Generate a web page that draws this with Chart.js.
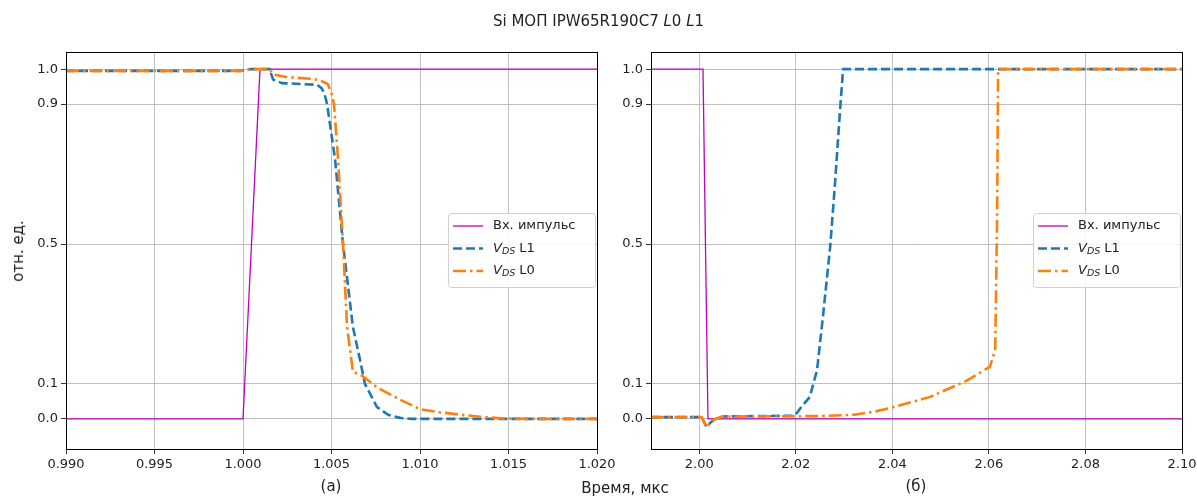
<!DOCTYPE html>
<html>
<head>
<meta charset="utf-8">
<script src="https://cdn.jsdelivr.net/npm/chart.js@4"></script>
<style>
  body { margin: 0; background: #fff; font-family: "DejaVu Sans", sans-serif; }
  #wrap { position: relative; width: 1197px; height: 496px; overflow: hidden; }
  .box { position: absolute; top: 0; height: 496px; }
  .txt { position: absolute; color: #222; white-space: nowrap; }
</style>
</head>
<body>
<div id="wrap">
  <div class="box" style="left:0;width:620px"><canvas id="chartA"></canvas></div>
  <div class="box" style="left:604px;width:620px"><canvas id="chartB"></canvas></div>
  <div class="txt" style="left:0;width:1197px;top:12px;text-align:center;font-size:15px">Si МОП IPW65R190C7 <i>L</i>0 <i>L</i>1</div>
  <div class="txt" style="left:18px;top:251px;font-size:15px;transform:translate(-50%,-50%) rotate(-90deg)">отн. ед.</div>
  <div class="txt" style="left:331px;top:477px;font-size:15px;transform:translateX(-50%)">(а)</div>
  <div class="txt" style="left:916px;top:477px;font-size:15px;transform:translateX(-50%)">(б)</div>
  <div class="txt" style="left:625px;top:479px;font-size:15px;transform:translateX(-50%)">Время, мкс</div>
</div>
<script>
// ---- data (a): fall of the input pulse ----
const pulseTimeA = [0.99, 1.0, 1.00096, 1.02];
const pulseValA  = [0, 0, 1, 1];

const l1TimeA = [0.99, 0.9999, 1.0004, 1.0015, 1.0017, 1.0022, 1.0035, 1.0042, 1.00445, 1.0046, 1.00475, 1.0052, 1.00565, 1.00621, 1.00661, 1.00689, 1.00757, 1.0082, 1.00887, 1.0095, 1.02];
const l1ValA  = [0.995, 0.995, 1.0, 1.0, 0.97, 0.96, 0.957, 0.955, 0.945, 0.93, 0.9, 0.743, 0.5, 0.263, 0.169, 0.1, 0.034, 0.012, 0.003, 0, 0];

const l0TimeA = [0.99, 0.9999, 1.0004, 1.0015, 1.0017, 1.0025, 1.004, 1.0044, 1.0048, 1.005, 1.00514, 1.00537, 1.00565, 1.00588, 1.00621, 1.00678, 1.00757, 1.00887, 1.01, 1.0111, 1.0123, 1.0134, 1.0145, 1.016, 1.02];
const l0ValA  = [0.995, 0.995, 1.0, 1.0, 0.985, 0.977, 0.972, 0.967, 0.957, 0.93, 0.9, 0.743, 0.5, 0.263, 0.135, 0.122, 0.09, 0.055, 0.028, 0.019, 0.012, 0.006, 0.002, 0, 0];

// ---- data (б): rise ----
const pulseTimeB = [1.99, 2.00077, 2.0018, 2.10];
const pulseValB  = [1, 1, 0, 0];

const l1TimeB = [1.99, 2.0005, 2.0011, 2.00154, 2.0022, 2.00326, 2.0049, 2.0198, 2.0209, 2.0229, 2.0244, 2.0256, 2.0271, 2.0281, 2.0292, 2.0298, 2.10];
const l1ValB  = [0.005, 0.005, -0.012, -0.024, -0.012, 0.0, 0.007, 0.009, 0.03, 0.063, 0.14, 0.29, 0.49, 0.67, 0.89, 1.0, 1.0];

const l0TimeB = [1.99, 2.0005, 2.0011, 2.00154, 2.0022, 2.00326, 2.0049, 2.025, 2.032, 2.036, 2.0395, 2.0478, 2.0555, 2.0602, 2.0613, 2.0617, 2.0619, 2.10];
const l0ValB  = [0.005, 0.005, -0.012, -0.024, -0.012, 0.0, 0.007, 0.008, 0.012, 0.02, 0.031, 0.063, 0.11, 0.149, 0.197, 0.58, 1.0, 1.0];

const yTicks = [0, 0.1, 0.5, 0.9, 1.0];
const xTicksA = [0.99, 0.995, 1.0, 1.005, 1.01, 1.015, 1.02];
const xTicksB = [2.0, 2.02, 2.04, 2.06, 2.08, 2.10];

const FONT = "'DejaVu Sans', sans-serif";
const pts = (xs, ys) => xs.map((x, i) => ({ x, y: ys[i] }));

// frame around the plot area
const framePlugin = {
    id: "frame",
    afterDraw(chart) {
        const a = chart.chartArea, ctx = chart.ctx;
        ctx.save();
        ctx.strokeStyle = "#000";
        ctx.lineWidth = 1;
        ctx.strokeRect(Math.round(a.left) + 0.5, Math.round(a.top) + 0.5,
            Math.round(a.right - a.left), Math.round(a.bottom - a.top));
        ctx.restore();
    }
};

// legend with V_DS subscripts
const legendPlugin = {
    id: "vdsLegend",
    afterDraw(chart) {
        const a = chart.chartArea, ctx = chart.ctx;
        const w = 147, h = 74;
        const x0 = a.right - 2 - w, y0 = 213;
        ctx.save();
        ctx.beginPath();
        ctx.roundRect(x0 + 0.5, y0 + 0.5, w, h, 3);
        ctx.fillStyle = "rgba(255,255,255,0.85)";
        ctx.fill();
        ctx.strokeStyle = "#d0d0d0";
        ctx.lineWidth = 1;
        ctx.stroke();
        const rows = [226, 248.5, 271];
        const ds = chart.data.datasets;
        rows.forEach((ry, i) => {
            const d = ds[i];
            ctx.beginPath();
            ctx.setLineDash(d.borderDash || []);
            ctx.strokeStyle = d.borderColor;
            ctx.lineWidth = d.borderWidth;
            ctx.moveTo(x0 + 5, ry);
            ctx.lineTo(x0 + 35, ry);
            ctx.stroke();
            ctx.setLineDash([]);
            ctx.fillStyle = "#222";
            ctx.textBaseline = "middle";
            let tx = x0 + 45;
            if (i === 0) {
                ctx.font = "13px " + FONT;
                ctx.fillText("Вх. импульс", tx, ry);
            } else {
                ctx.font = "italic 13px " + FONT;
                ctx.fillText("V", tx, ry);
                tx += ctx.measureText("V").width;
                ctx.font = "italic 9.5px " + FONT;
                ctx.fillText("DS", tx, ry + 3);
                tx += ctx.measureText("DS").width;
                ctx.font = "13px " + FONT;
                ctx.fillText(i === 1 ? " L1" : " L0", tx, ry);
            }
        });
        ctx.restore();
    }
};

function makeChart(id, pulse, l1, l0, xmin, xmax, xTicks, dec, yWidth, padRight) {
    return new Chart(document.getElementById(id), {
        type: "line",
        data: {
            datasets: [
                { label: "Вх. импульс", data: pulse, borderColor: "#bf00bf", borderWidth: 1.3, pointRadius: 0, order: 2 },
                { label: "VDS L1", data: l1, borderColor: "#1f77b4", borderWidth: 2.6, borderDash: [9, 4], pointRadius: 0, order: 1 },
                { label: "VDS L0", data: l0, borderColor: "#ff7f0e", borderWidth: 2.6, borderDash: [13, 4, 2.5, 4], pointRadius: 0, order: 0 }
            ]
        },
        options: {
            responsive: true,
            maintainAspectRatio: false,
            animation: false,
            layout: { padding: { top: 52, right: padRight, left: 0, bottom: 0 } },
            plugins: { legend: { display: false }, tooltip: { enabled: false } },
            scales: {
                x: {
                    type: "linear", min: xmin, max: xmax,
                    afterBuildTicks: s => { s.ticks = xTicks.map(v => ({ value: v })); },
                    afterFit: s => { s.height = 47; },
                    ticks: { color: "#222", font: { family: FONT, size: 13 }, maxRotation: 0, padding: 3,
                        callback: v => Number(v).toFixed(dec) },
                    grid: { color: "#b0b0b0", lineWidth: 0.8, tickLength: 5, tickColor: "#000" },
                    border: { display: false }
                },
                y: {
                    min: -0.086, max: 1.049,
                    afterBuildTicks: s => { s.ticks = yTicks.map(v => ({ value: v })); },
                    afterFit: s => { s.width = yWidth; },
                    ticks: { color: "#222", font: { family: FONT, size: 13 }, padding: 3,
                        callback: v => Number(v).toFixed(1) },
                    grid: { color: "#b0b0b0", lineWidth: 0.8, tickLength: 5, tickColor: "#000" },
                    border: { display: false }
                }
            }
        },
        plugins: [framePlugin, legendPlugin]
    });
}

document.addEventListener("DOMContentLoaded", () => {
    makeChart("chartA", pts(pulseTimeA, pulseValA), pts(l1TimeA, l1ValA), pts(l0TimeA, l0ValA),
        0.99, 1.02, xTicksA, 3, 66, 23);
    makeChart("chartB", pts(pulseTimeB, pulseValB), pts(l1TimeB, l1ValB), pts(l0TimeB, l0ValB),
        1.99, 2.10, xTicksB, 2, 47, 42);
});
</script>
</body>
</html>
